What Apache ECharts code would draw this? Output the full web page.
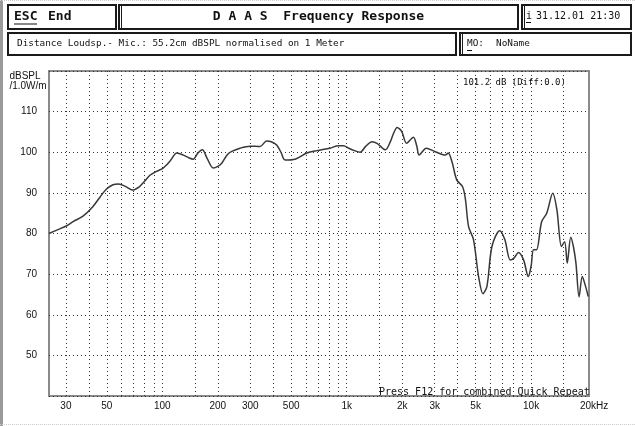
<!DOCTYPE html>
<html><head><meta charset="utf-8">
<script src="https://cdn.jsdelivr.net/npm/echarts@6/dist/echarts.min.js"></script>
<style>html,body{margin:0;padding:0;background:#fff}#c{width:635px;height:426px}</style>
</head><body><div id="c"></div>
<script>
// frequency (Hz)
const freqs = [24.3,27,30.3,33,37,42,46,50,54,58,63,69,75,80,86,93,101,110,120,130,140,147,156,165,175,189,200,210,225,238,264,299,339,368,390,417,440,463,525,608,689,811,900,960,1023,1100,1182,1270,1370,1460,1620,1725,1800,1877,1990,2110,2300,2400,2470,2700,3000,3420,3550,3720,3950,4250,4400,4580,4870,5190,5480,5760,6130,6750,7200,7700,8100,8530,9100,9650,10000,10300,10700,11400,12150,13100,13800,14600,15200,15700,16400,16950,17500,18200,18950,19700,20400];
// level (dBSPL)
const levels = [80.0,80.9,81.9,83.0,84.2,86.6,89.0,91.0,92.0,92.2,91.6,90.7,91.5,92.8,94.4,95.3,96.1,97.8,99.8,99.3,98.6,98.3,99.8,100.6,98.5,96.1,96.5,97.3,99.4,100.2,101.0,101.5,101.4,102.8,102.6,101.8,100.0,98.1,98.3,99.8,100.4,101.0,101.6,101.6,101.0,100.4,100.0,101.5,102.6,102.2,100.6,102.6,104.8,106.1,105.1,102.2,103.7,101.5,99.3,101.0,100.2,99.3,99.8,97.7,93.2,91.5,88.5,81.7,78.5,69.4,65.2,67.0,76.8,80.7,78.5,73.5,74.0,75.3,73.5,69.4,72.0,76.0,76.0,82.9,85.0,89.9,85.8,76.8,78.0,72.7,79.1,76.8,72.7,64.4,69.4,67.1,64.5];
const xTickValues = [30,50,100,200,300,500,1000,2000,3000,5000,10000,20000];
const xTickLabels = ['30','50','100','200','300','500','1k','2k','3k','5k','10k','20kHz'];
const xGridValues = [30,40,50,60,70,80,90,100,150,200,300,400,500,600,700,800,900,1000,1500,2000,3000,4000,5000,6000,7000,8000,9000,10000,15000];

const chart = echarts.init(document.getElementById('c'), null, {renderer:'canvas'});
const mono = '"DejaVu Sans Mono", monospace';
const sans = '"Liberation Sans", Arial, sans-serif';
function box(x1,y1,x2,y2){
  return {type:'rect', shape:{x:x1,y:y1,width:x2-x1,height:y2-y1}, style:{fill:'#fff',stroke:'#1a1a1a',lineWidth:2}, silent:true};
}
function vline(x,y1,y2){
  return {type:'line', shape:{x1:x,y1:y1,x2:x,y2:y2}, style:{stroke:'#1a1a1a',lineWidth:1}, silent:true};
}
function txt(x,y,s,font,opts){
  return Object.assign({type:'text', x:x, y:y, style:Object.assign({text:s, font:font, fill:'#111', textVerticalAlign:'middle'}, opts||{}), silent:true});
}
const graphics = [
  {type:'rect', shape:{x:0,y:0,width:3,height:426}, style:{fill:'#9a9a9a'}, silent:true},
  {type:'line', shape:{x1:0,y1:0.5,x2:635,y2:0.5}, style:{stroke:'#ccc',lineWidth:1,lineDash:[1,1]}, silent:true},
  {type:'line', shape:{x1:0,y1:424.5,x2:635,y2:424.5}, style:{stroke:'#ccc',lineWidth:1,lineDash:[1,1]}, silent:true},
  box(8,5,116,29), box(119,5,518,29), box(522,5,631,29),
  box(8,33,456,55), box(460,33,631,55),
  vline(121.5,6,28), vline(524.5,6,28), vline(462.5,34,54),
  txt(14,17,'ESC','bold 13px '+mono),
  {type:'line', shape:{x1:14,y1:24,x2:37,y2:24}, style:{stroke:'#111',lineWidth:1}, silent:true},
  txt(48,17,'End','bold 13px '+mono),
  txt(318.5,17,'D A A S  Frequency Response','bold 13px '+mono,{textAlign:'center'}),
  txt(526,16,'i','10px '+mono),
  {type:'line', shape:{x1:526,y1:22.5,x2:531,y2:22.5}, style:{stroke:'#111',lineWidth:1}, silent:true},
  txt(536,16,'31.12.01 21:30','10px '+mono),
  txt(17,44,'Distance Loudsp.- Mic.: 55.2cm dBSPL normalised on 1 Meter','9.4px '+mono),
  txt(467,44,'MO:','9.4px '+mono),
  {type:'line', shape:{x1:467,y1:50.5,x2:472,y2:50.5}, style:{stroke:'#111',lineWidth:1}, silent:true},
  txt(496,44,'NoName','9.4px '+mono),
  txt(25,76,'dBSPL','10px '+sans,{textAlign:'center'}),
  txt(28,86,'/1.0W/m','10px '+sans,{textAlign:'center'}),
  txt(463,83,'101.2 dB (Diff:0.0)','9px '+mono),
  txt(379,392,'Press F12 for combined Quick Repeat','10px '+mono)
];

chart.setOption({
  animation:false,
  backgroundColor:'#fff',
  grid:{left:49, top:71, width:540, height:325, show:true, borderColor:'#8a8a8a', borderWidth:2, backgroundColor:'transparent'},
  xAxis:{type:'log', logBase:10, min:24.3, max:20600,
    axisLine:{show:false}, axisTick:{show:false}, splitLine:{show:false}, minorSplitLine:{show:false},
    axisLabel:{show:true, customValues:xTickValues, margin:5, color:'#111', fontSize:10, fontFamily:sans,
      formatter:function(v){ const i = xTickValues.indexOf(Math.round(v)); if(i<0) return ''; const s = xTickLabels[i]; return s==='20kHz' ? '{p|}{t|20kHz}' : s; },
      rich:{p:{width:15}, t:{fontSize:10, fontFamily:sans, color:'#111'}}}
  },
  yAxis:{type:'value', min:40, max:120, interval:10,
    axisLine:{show:false}, axisTick:{show:false},
    axisLabel:{margin:12, color:'#111', fontSize:10, fontFamily:sans, showMinLabel:false, showMaxLabel:false},
    splitLine:{show:true, lineStyle:{color:'#333', width:1, type:[1,3]}}
  },
  graphic:graphics,
  series:[{
    type:'line', data:freqs.map((f,i)=>[f,levels[i]]), showSymbol:false, smooth:0.3,
    lineStyle:{color:'#383838', width:1.5}, z:3,
    markLine:{silent:true, symbol:'none', label:{show:false}, z:1,
      lineStyle:{color:'#333', width:1, type:[1,3]},
      data:xGridValues.map(v=>({xAxis:v}))}
  }]
});
</script></body></html>
